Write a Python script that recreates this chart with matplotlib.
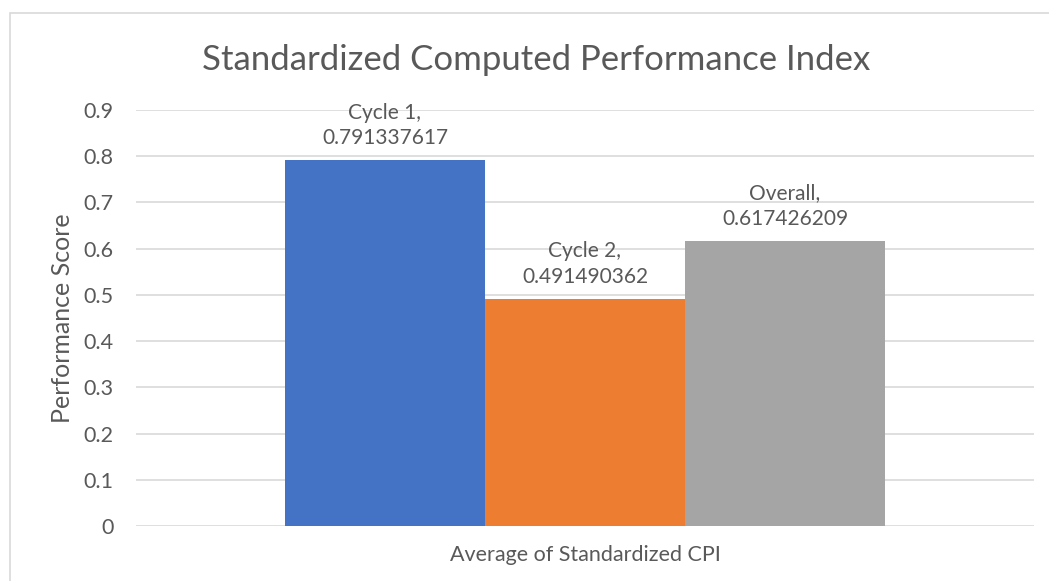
import numpy as np
import matplotlib.pyplot as plt
from matplotlib.patches import Rectangle

# data
series = ['Cycle 1', 'Cycle 2', 'Overall']
values = [0.791337617, 0.491490362, 0.617426209]
colors = ['#4472C4', '#ED7D31', '#A5A5A5']
yticks = [0, 0.1, 0.2, 0.3, 0.4, 0.5, 0.6, 0.7, 0.8, 0.9]

txt = '#595959'
plt.rcParams['font.family'] = ['Lato', 'DejaVu Sans']

fig = plt.figure(figsize=(10.49, 5.81), dpi=100)
ax = fig.add_axes([136/1049, 1 - 526/581, 898/1049, (526 - 110)/581])

# chart frame (partly cut off in the original)
fig.patches.append(Rectangle((9.5/1049, -0.1), 1.2, 1 - 13/581 + 0.1, transform=fig.transFigure,
                             fill=False, edgecolor='#D9D9D9', linewidth=1.2))

x = np.arange(len(series)) - 1
ax.bar(x, values, width=1.0, color=colors, zorder=2)

for xi, name, v in zip(x, series, values):
    ax.text(xi, v + 0.026, f'{name},\n{v}', ha='center', va='bottom',
            fontsize=15, color=txt, linespacing=1.35)

ax.set_xlim(-2.245, 2.245)
ax.set_ylim(0, 0.9)
ax.set_yticks(yticks)
ax.set_yticklabels([f'{t:g}' for t in yticks])
ax.set_xticks([])
ax.grid(axis='y', color='#D9D9D9', linewidth=1.2, zorder=0)
for s in ax.spines.values():
    s.set_visible(False)
ax.tick_params(axis='y', length=0, pad=16, labelsize=15.5, labelcolor=txt)

ax.set_ylabel('Performance Score', fontsize=18, color=txt, va='center')
ax.yaxis.set_label_coords((63 - 136)/898, 0.5)
ax.set_xlabel('Average of Standardized CPI', fontsize=15.5, color=txt)
ax.xaxis.set_label_coords(0.5, (526 - 545)/416)
fig.text(536/1049, 1 - 60/581, 'Standardized Computed Performance Index',
         ha='center', va='center', fontsize=25, color=txt)

fig.savefig('out.png', dpi=100)
